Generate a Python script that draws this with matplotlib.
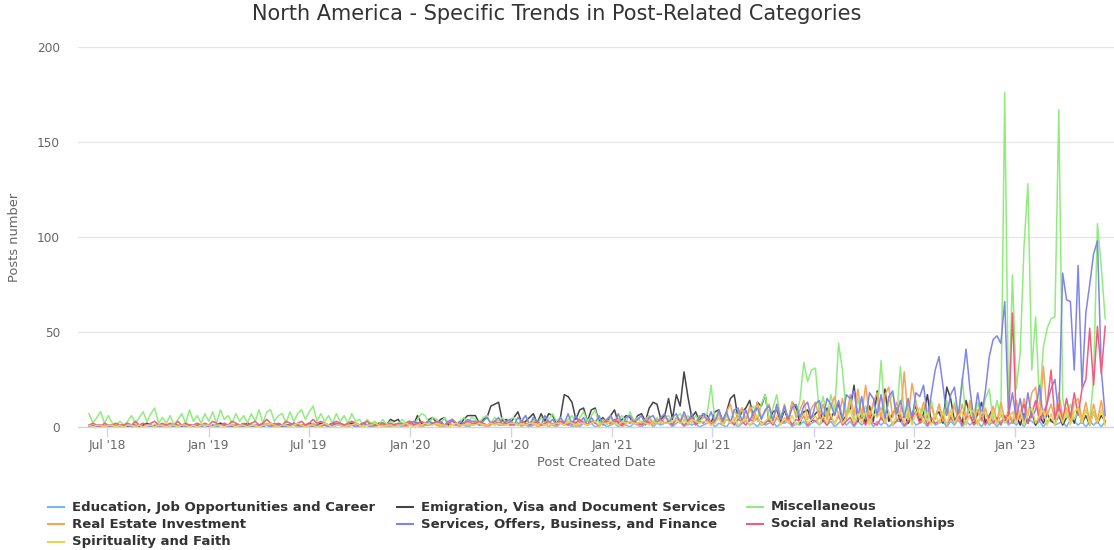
import numpy as np
import pandas as pd
import matplotlib
matplotlib.use("Agg")
import matplotlib.pyplot as plt
from matplotlib.lines import Line2D

plt.rcParams['font.family'] = ['DejaVu Sans']

# weekly samples, first week 2018-05-29
start_date = "2018-05-29"
n_weeks = 264

series_names = [
    "Education, Job Opportunities and Career",
    "Emigration, Visa and Document Services",
    "Miscellaneous",
    "Real Estate Investment",
    "Services, Offers, Business, and Finance",
    "Social and Relationships",
    "Spirituality and Faith",
]
colors = ["#7cb5ec", "#434348", "#90ed7d", "#f7a35c", "#8085e9", "#f15c80", "#e4d354"]

education = [
    1,0,1,1,0,1,0,1,1,0, 1,1,0,1,0,1,1,0,1,1, 0,1,1,0,1,0,1,1,0,1,
    1,0,1,1,2,1,0,1,1,0, 1,1,0,1,1,2,1,0,1,1, 0,1,1,2,1,0,1,1,0,1,
    1,2,1,0,1,1,0,1,2,1, 0,1,1,0,1,1,2,1,0,1, 1,0,1,1,2,1,0,1,1,2,
    1,1,0,2,1,1,2,1,0,1, 2,1,1,0,1,2,1,1,2,1, 1,2,1,1,0,1,2,1,1,2,
    1,0,2,1,2,0,1,0,2,1, 2,0,1,2,0,1,2,0,2,1, 0,2,1,0,2,3,0,2,1,2,
    2,0,2,3,0,2,1,2,0,1, 2,3,0,2,1,0,3,2,0,2, 3,1,2,0,3,1,2,3,0,2,
    2,3,0,2,1,3,0,2,3,1, 3,1,3,0,2,4,1,3,0,3, 1,3,4,0,3,1,3,0,2,3,
    3,0,2,4,1,2,3,0,4,1, 2,3,0,3,1,4,0,3,1,3, 3,0,4,1,3,0,3,4,1,3,
    1,3,0,4,3,1,3,0,3,4, 1,2,3,0,4,3,1,3,0,3, 1,3,0,3,
]
emigration = [
    1,0,1,1,0,1,1,0,1,1, 0,1,1,0,1,2,1,0,1,1, 0,1,1,1,0,1,1,0,1,1,
    1,1,0,1,2,1,1,0,1,1, 1,2,1,0,1,1,1,2,1,1, 0,1,1,2,1,1,1,2,1,1,
    2,1,1,2,1,2,1,1,2,2, 1,2,1,2,1,2,2,1,4,3, 4,1,2,3,1,6,2,1,4,5,
    2,4,5,1,4,2,1,4,6,6, 6,2,4,5,11,12,13,3,4,2, 5,8,2,3,5,7,2,7,3,7,
    6,2,5,17,16,13,4,9,10,3, 9,10,3,5,2,6,9,2,4,6, 5,2,6,7,3,10,13,12,4,6,
    15,4,17,11,29,16,5,8,3,7, 6,2,8,9,3,8,15,17,4,8, 10,14,4,13,11,17,3,8,9,3,
    9,3,13,10,2,8,9,3,7,9, 3,10,4,9,12,3,6,9,22,3, 7,2,11,3,19,4,20,3,7,10,
    3,6,2,7,11,3,7,17,2,6, 8,2,21,15,3,7,2,14,6,2, 7,13,2,6,10,2,7,3,8,2,
    6,1,7,2,8,1,6,2,7,3, 2,6,1,5,7,2,10,2,6,1, 8,2,6,3,
]
miscellaneous = [
    7,2,5,8,2,6,2,1,3,1, 3,6,2,5,8,3,7,10,2,5, 2,6,1,4,7,2,9,3,6,2,
    7,3,8,2,9,4,6,2,7,3, 6,2,7,3,9,2,8,9,3,6, 7,2,8,3,7,9,4,8,11,3,
    7,3,6,2,7,3,6,2,7,3, 4,1,4,2,3,1,4,1,3,2, 1,4,2,3,1,4,7,6,2,5,
    4,1,5,2,4,1,3,5,2,5, 4,2,5,6,2,5,3,5,2,4, 5,2,4,6,2,4,1,5,2,4,
    7,3,5,2,4,6,2,5,8,3, 6,9,2,4,1,5,2,4,6,2, 8,3,5,2,4,6,2,5,2,5,
    6,2,5,7,3,6,2,6,3,5, 7,22,3,8,2,6,3,9,4,10, 4,9,11,3,12,17,4,10,17,5,
    10,4,13,6,14,34,24,30,31,8, 16,5,17,8,44,30,6,14,4,15, 5,11,4,12,6,35,5,13,18,4,
    32,6,12,4,14,5,10,3,14,4, 12,4,14,3,13,5,26,4,11,3, 13,4,15,20,3,14,5,176,6,80,
    20,39,95,128,30,58,12,42,52,57, 58,167,15,5,12,4,8,3,9,4, 25,107,84,57,
]
real_estate = [
    1,0,1,0,1,1,0,1,0,1, 1,0,1,1,0,1,0,1,1,0, 0,1,0,1,1,0,1,0,1,1,
    1,0,1,0,1,1,0,1,1,0, 0,1,1,0,1,0,2,1,0,1, 1,0,1,1,0,1,1,0,2,1,
    0,1,1,0,1,2,1,0,1,1, 1,0,1,1,0,1,1,0,1,0, 1,1,0,1,2,1,0,1,1,2,
    1,0,1,2,1,1,0,2,1,1, 2,1,1,0,2,1,2,1,1,2, 1,2,0,2,1,3,0,1,2,0,
    2,0,3,1,2,3,0,1,3,1, 2,3,0,3,4,1,3,4,0,2, 3,4,1,2,4,5,1,4,2,5,
    4,1,5,4,6,1,5,2,6,5, 5,2,4,7,2,8,12,3,7,10, 3,11,4,13,5,8,12,3,11,4,
    12,3,13,5,9,14,4,10,13,5, 12,4,11,16,5,15,4,17,6,20, 6,22,5,13,18,4,17,21,5,13,
    6,29,4,23,12,5,13,6,11,4, 12,3,10,5,11,3,12,4,14,3, 9,3,10,2,11,3,13,4,8,2,
    14,4,15,6,18,21,5,32,6,12, 4,18,5,10,3,13,15,4,13,3, 12,3,14,2,
]
services = [
    0,1,0,1,0,0,1,0,1,0, 1,0,0,1,0,1,0,1,0,1, 0,1,0,0,1,0,1,0,1,0,
    1,0,1,0,1,1,0,1,0,1, 0,1,0,1,1,0,1,0,2,1, 1,0,1,2,1,0,1,1,0,1,
    1,1,0,1,2,1,0,1,1,0, 1,2,1,0,1,1,2,1,1,0, 1,2,1,2,3,2,1,2,3,2,
    2,3,1,3,4,1,3,2,4,3, 3,1,3,5,2,3,5,1,3,4, 1,5,3,6,1,5,3,1,6,2,
    4,1,5,2,7,1,6,2,5,1, 5,2,6,1,4,6,2,7,1,5, 6,2,4,6,1,5,6,2,5,7,
    2,5,7,2,8,3,7,2,5,7, 3,8,2,9,3,8,2,9,10,3, 9,3,8,10,4,9,11,3,12,4,
    11,4,10,12,5,11,13,4,12,14, 5,15,12,6,14,4,17,15,19,5, 16,4,18,15,6,17,4,16,19,6,
    14,5,15,4,18,16,22,5,17,30, 37,22,6,17,21,5,24,41,20,4, 18,6,19,37,46,48,44,66,6,18,
    4,15,3,18,5,9,22,4,13,20, 25,5,81,67,66,30,85,21,60,75, 91,98,30,6,
]
social = [
    1,2,1,0,2,1,1,2,1,1, 2,1,3,1,2,1,2,3,1,2, 1,2,1,3,1,2,1,1,2,1,
    2,1,3,2,1,2,1,3,2,1, 2,1,2,3,1,2,4,2,1,2, 1,3,2,1,2,3,1,2,4,2,
    3,2,1,2,3,2,1,2,3,2, 1,2,3,1,2,1,2,1,2,1, 2,1,2,3,1,2,3,2,1,2,
    3,2,1,2,3,2,1,2,3,2, 2,3,2,1,2,3,2,3,2,1, 2,1,3,2,1,2,3,1,2,3,
    1,2,3,2,1,3,2,4,2,1, 3,2,1,2,3,2,4,2,1,3, 2,3,2,1,3,2,3,2,4,2,
    3,1,4,3,1,3,5,1,3,2, 4,1,3,5,1,4,3,1,4,3, 1,4,3,5,1,2,4,1,5,2,
    3,5,1,4,3,6,1,4,3,5, 4,1,5,2,6,1,3,5,1,4, 5,1,6,2,1,5,2,7,1,3,
    6,1,3,5,8,2,6,1,5,2, 3,6,1,5,2,7,1,5,6,1, 3,5,1,6,2,5,1,6,2,60,
    3,6,12,2,7,14,3,8,12,30, 4,12,3,15,5,18,6,20,25,52, 22,53,28,53,
]
spirituality = [
    1,0,1,1,0,1,1,0,1,0, 1,1,0,1,0,1,1,0,1,1, 0,1,1,0,1,1,0,1,0,1,
    1,1,0,1,1,0,1,1,0,1, 1,0,1,1,0,1,1,2,1,0, 1,1,0,1,2,1,0,1,1,0,
    1,2,1,0,1,1,0,1,1,2, 1,0,1,1,2,1,0,1,1,0, 1,1,2,1,0,1,1,2,1,1,
    2,1,1,0,1,2,1,1,2,1, 1,2,1,1,2,1,2,1,1,2, 2,1,2,1,2,2,1,2,1,2,
    1,2,2,1,3,2,1,2,2,1, 2,3,1,2,2,3,2,1,3,2, 3,2,2,3,2,1,3,2,3,2,
    2,3,4,2,3,2,4,3,2,3, 3,1,2,5,1,4,2,5,1,3, 4,1,3,6,1,3,5,2,6,1,
    5,2,6,1,3,7,2,4,6,1, 6,2,7,1,8,2,5,9,2,7, 2,8,1,7,5,9,2,8,1,6,
    8,2,9,1,7,10,2,8,1,7, 2,8,1,9,2,6,8,1,7,9, 1,8,7,2,9,1,8,2,5,8,
    2,9,1,8,10,2,6,9,1,7, 1,8,2,9,1,8,10,2,9,1, 8,2,9,1,
]

all_values = [education, emigration, miscellaneous, real_estate,
              services, social, spirituality]
print([len(v) for v in all_values])

y_ticks = [0, 50, 100, 150, 200]
x_tick_dates = ["2018-07-01", "2019-01-01", "2019-07-01", "2020-01-01",
                "2020-07-01", "2021-01-01", "2021-07-01", "2022-01-01",
                "2022-07-01", "2023-01-01"]
x_tick_labels = ["Jul '18", "Jan '19", "Jul '19", "Jan '20", "Jul '20",
                 "Jan '21", "Jul '21", "Jan '22", "Jul '22", "Jan '23"]

W, H = 1114, 550
fig = plt.figure(figsize=(W / 100, H / 100), dpi=100)
fig.patch.set_facecolor("white")
left, right, top, bottom = 78, 1114, 47, 427
ax = fig.add_axes([left / W, 1 - bottom / H, (right - left) / W, (bottom - top) / H])

dates = pd.date_range(start_date, periods=n_weeks, freq="7D")
for vals, c in zip(all_values, colors):
    n = min(len(vals), len(dates))
    ax.plot(dates[:n], vals[:n], color=c, lw=1.1)

ax.set_ylim(0, 200)
ax.set_xlim(pd.Timestamp("2018-05-09"), pd.Timestamp("2023-06-29"))
ax.set_yticks(y_ticks)
ax.set_yticklabels([str(t) for t in y_ticks])
ax.yaxis.grid(True, color="#e6e6e6", lw=1)
ax.set_axisbelow(True)
for s in ["top", "right", "left"]:
    ax.spines[s].set_visible(False)
ax.spines["bottom"].set_color("#ccd6eb")
ax.spines["bottom"].set_linewidth(1)
ax.tick_params(axis="y", length=0, pad=13, labelcolor="#666666", labelsize=8.7)
ax.set_xticks([pd.Timestamp(d) for d in x_tick_dates])
ax.set_xticklabels(x_tick_labels)
ax.tick_params(axis="x", length=7.2, color="#ccd6eb", width=1,
               labelcolor="#666666", labelsize=8.7, pad=1.5)

fig.text(0.5, 1 - 14 / H, "North America - Specific Trends in Post-Related Categories",
         ha="center", va="center", fontsize=15, color="#333333")
fig.text((left + right) / 2 / W, 1 - 463 / H, "Post Created Date",
         ha="center", va="center", fontsize=9.4, color="#666666")
fig.text(15 / W, 1 - 237 / H, "Posts number", rotation=90,
         ha="center", va="center", fontsize=9.4, color="#666666")

# legend, row-major like the original
col_x = [48, 397, 747]
row_y = [507, 524, 542]
for k, (name, c) in enumerate(zip(series_names, colors)):
    r, cidx = divmod(k, 3)
    x0 = col_x[cidx]
    y0 = row_y[r]
    fig.add_artist(Line2D([x0 / W, (x0 + 16) / W], [1 - y0 / H, 1 - y0 / H],
                          color=c, lw=1.5, transform=fig.transFigure))
    fig.text((x0 + 24) / W, 1 - y0 / H, name, ha="left", va="center",
             fontsize=9.5, fontweight="bold", color="#333333")

fig.savefig("out.png", dpi=100, facecolor="white")
